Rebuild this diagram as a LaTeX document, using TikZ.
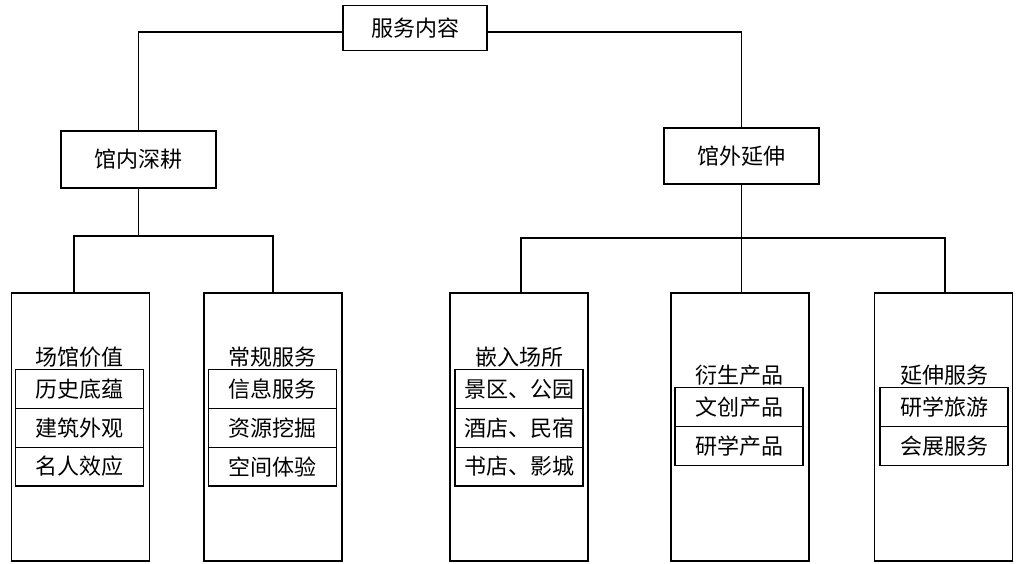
\documentclass[tikz,border=0pt]{standalone}
\usepackage{fontspec}
\newfontfamily\cjk{Noto Sans CJK SC}
\usetikzlibrary{positioning}
\tikzset{
    head/.style={draw,inner sep=0pt},
    col/.style={draw,minimum width=138pt,minimum height=268pt},
    item/.style={draw,minimum width=128pt,minimum height=38.8pt,inner sep=0pt},
    title/.style={inner sep=1pt}
}

\begin{document}
\begin{tikzpicture}[x=1pt,y=-1pt,line width=1.1pt,font=\cjk\fontsize{22}{24}\selectfont]
    \useasboundingbox (0,0) rectangle (1023,564);
    \node[head,minimum width=144pt,minimum height=45pt] (top) at (415,28) {服务内容};
    \node[head,minimum width=155pt,minimum height=57pt] (inner) at (138.5,159.5) {馆内深耕};
    \node[head,minimum width=155pt,minimum height=56pt] (outer) at (741.5,156) {馆外延伸};

    % columns
    \node[col] (venue) at (80.5,427) {};
    \node[col] (routine) at (273,427) {};
    \node[col] (embed) at (519,427) {};
    \node[col] (derive) at (740,427) {};
    \node[col] (extend) at (943.5,427) {};

    \node[item] (venue1) at (79.5,389) {历史底蕴};
    \node[item,below=-1.1pt of venue1] (venue2) {建筑外观};
    \node[item,below=-1.1pt of venue2] (venue3) {名人效应};
    \node[title,above=0pt of venue1] {场馆价值};

    \node[item] (routine1) at (272.5,389) {信息服务};
    \node[item,below=-1.1pt of routine1] (routine2) {资源挖掘};
    \node[item,below=-1.1pt of routine2] (routine3) {空间体验};
    \node[title,above=0pt of routine1] {常规服务};

    \node[item] (embed1) at (519,389) {景区、公园};
    \node[item,below=-1.1pt of embed1] (embed2) {酒店、民宿};
    \node[item,below=-1.1pt of embed2] (embed3) {书店、影城};
    \node[title,above=0pt of embed1] {嵌入场所};

    \node[item] (derive1) at (739,407) {文创产品};
    \node[item,below=-1.1pt of derive1] (derive2) {研学产品};
    \node[title,above=0pt of derive1] {衍生产品};

    \node[item] (extend1) at (944,407) {研学旅游};
    \node[item,below=-1.1pt of extend1] (extend2) {会展服务};
    \node[title,above=0pt of extend1] {延伸服务};

    % connectors
    \draw ([yshift=-4pt]top.west) -| (inner.north);
    \draw ([yshift=-4pt]top.east) -| (outer.north);
    \coordinate (ljoin) at (138.5,236);
    \coordinate (rjoin) at (741.5,238);
    \draw (inner.south) -- (ljoin);
    \draw ([xshift=-6.5pt]venue.north) |- (ljoin) -| (routine.north);
    \draw (outer.south) -- (rjoin);
    \draw ([xshift=2pt]embed.north) |- (rjoin) -| ([xshift=1.5pt]extend.north);
    \draw (rjoin) -- ([xshift=1.5pt]derive.north);
\end{tikzpicture}
\end{document}
